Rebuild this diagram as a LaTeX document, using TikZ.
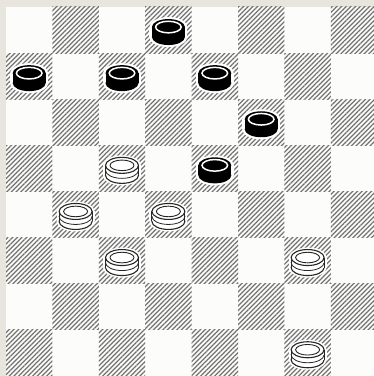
\documentclass[tikz,border=0pt]{standalone}
\usepackage{tikz}
\usetikzlibrary{patterns.meta}

\definecolor{paper}{RGB}{232,229,222}
\definecolor{lightsq}{RGB}{252,252,250}

\tikzset{
  darksq/.style={pattern={Lines[angle=45,distance=3.3pt,line width=1.2pt]},pattern color=black!55},
  rim/.style={draw=black!85,line width=1.1pt},
  halo/.code={%
    \fill[white] (-19,-7) rectangle (19,3);
    \fill[white] (0,3) ellipse (19pt and 10pt);
    \fill[white] (0,-7) ellipse (19pt and 10pt);},
  pics/blackman/.style={code={
    \tikzset{halo}
    \fill[black] (0,-7) ellipse (16.5pt and 8pt);
    \fill[black] (-16.5,-7) rectangle (16.5,3);
    \fill[black] (0,3) ellipse (16.5pt and 8pt);
    \draw[white,line width=1.5pt] (0,3) ellipse (12.8pt and 5.8pt);
  }},
  pics/whiteman/.style={code={
    \tikzset{halo}
    \filldraw[rim,fill=white] (0,-7) ellipse (16.5pt and 8pt);
    \fill[white] (-16.5,-7) rectangle (16.5,-2);
    \draw[rim,line width=0.8pt] (0,-2) ellipse (16.5pt and 8pt);
    \fill[white] (-16.5,-2) rectangle (16.5,3);
    \draw[rim] (-16.5,3) -- (-16.5,-7) (16.5,3) -- (16.5,-7);
    \filldraw[rim,fill=white] (0,3) ellipse (16.5pt and 8pt);
    \draw[rim,line width=0.9pt] (0,3) ellipse (12pt and 5.3pt);
  }}
}

\begin{document}
\begin{tikzpicture}[x=1pt,y=1pt]
\useasboundingbox (0,0) rectangle (374,376);
\fill[paper] (0,0) rectangle (374,376);
\clip (0,0) rectangle (374,376);
% board
\fill[lightsq] (6,369) rectangle ++(371.2,-368.8);
\foreach \r in {0,...,7}
  \foreach \c in {0,...,7} {
    \ifodd\numexpr\r+\c\relax
      \path[darksq] ({6+46.4*\c},{369-46.1*\r}) rectangle ++(46.4,-46.1);
    \fi
  }
% men
\foreach \r/\c in {0/3,1/0,1/2,1/4,2/5,3/4}
  \pic at ({29.2+46.4*\c},{345.95-46.1*\r}) {blackman};
\foreach \r/\c in {3/2,4/1,4/3,5/2,5/6,7/6}
  \pic at ({29.2+46.4*\c},{345.95-46.1*\r}) {whiteman};
\end{tikzpicture}
\end{document}
